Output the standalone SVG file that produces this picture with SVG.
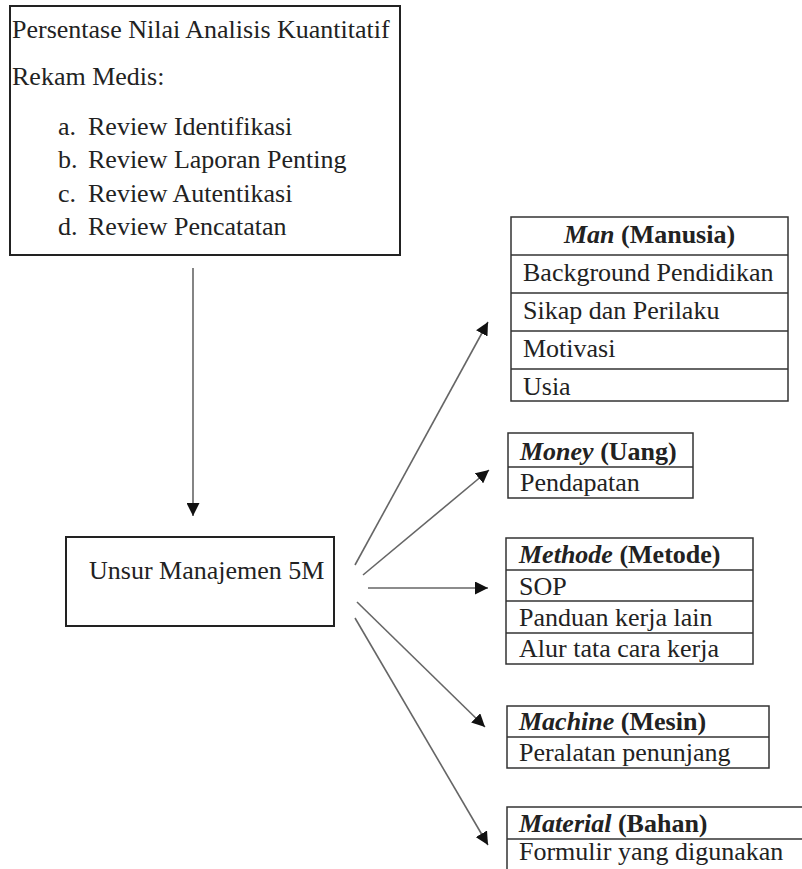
<svg xmlns="http://www.w3.org/2000/svg" width="802" height="869" viewBox="0 0 802 869">
<defs>
<style>
.t{font-family:"Liberation Serif","Times New Roman",serif;font-size:26px;fill:#222}
.b{font-weight:bold}
.i{font-style:italic}
.box{fill:#fff;stroke:#222;stroke-width:2}
.cell{fill:#fff;stroke:#333;stroke-width:1.5}
.sep{stroke:#333;stroke-width:1.5}
.conn{stroke:#666;stroke-width:1.6;fill:none;marker-end:url(#ah)}
</style>
<marker id="ah" markerUnits="userSpaceOnUse" markerWidth="13" markerHeight="13" refX="13" refY="6.5" orient="auto" viewBox="0 0 13 13">
<path d="M0,0 L13,6.5 L0,13 z" fill="#111"/>
</marker>
</defs>
<rect width="802" height="869" fill="#fff"/>

<g id="connectors">
<line class="conn" x1="193" y1="268" x2="193" y2="516"/>
<line class="conn" x1="355" y1="565" x2="488" y2="322"/>
<line class="conn" x1="363" y1="575" x2="489" y2="470"/>
<line class="conn" x1="368" y1="588" x2="488" y2="588"/>
<line class="conn" x1="357" y1="602" x2="485" y2="727"/>
<line class="conn" x1="355" y1="618" x2="488" y2="845"/>
</g>

<g id="persentase">
<rect class="box" x="10" y="6" width="390" height="249"/>
<text class="t" x="12" y="38">Persentase Nilai Analisis Kuantitatif</text>
<text class="t" x="12" y="85">Rekam Medis:</text>
<text class="t" x="58" y="135">a.</text><text class="t" x="88" y="135">Review Identifikasi</text>
<text class="t" x="58" y="168">b.</text><text class="t" x="88" y="168">Review Laporan Penting</text>
<text class="t" x="58" y="202">c.</text><text class="t" x="88" y="202">Review Autentikasi</text>
<text class="t" x="58" y="235">d.</text><text class="t" x="88" y="235">Review Pencatatan</text>
</g>

<g id="unsur">
<rect class="box" x="66" y="537" width="268" height="89"/>
<text class="t" x="89" y="579">Unsur Manajemen 5M</text>
</g>

<g id="man">
<rect class="cell" x="511" y="217" width="277" height="184"/>
<line class="sep" x1="511" y1="255" x2="788" y2="255"/>
<line class="sep" x1="511" y1="293" x2="788" y2="293"/>
<line class="sep" x1="511" y1="331" x2="788" y2="331"/>
<line class="sep" x1="511" y1="369" x2="788" y2="369"/>
<text class="t b" x="649.5" y="243" text-anchor="middle"><tspan class="i">Man</tspan> (Manusia)</text>
<text class="t" x="523" y="281">Background Pendidikan</text>
<text class="t" x="523" y="319">Sikap dan Perilaku</text>
<text class="t" x="523" y="357">Motivasi</text>
<text class="t" x="523" y="395">Usia</text>
</g>

<g id="money">
<rect class="cell" x="508" y="433" width="185" height="65"/>
<line class="sep" x1="508" y1="467" x2="693" y2="467"/>
<text class="t b" x="520" y="460"><tspan class="i">Money</tspan> (Uang)</text>
<text class="t" x="520" y="491">Pendapatan</text>
</g>

<g id="methode">
<rect class="cell" x="506" y="538" width="247" height="126"/>
<line class="sep" x1="506" y1="570" x2="753" y2="570"/>
<line class="sep" x1="506" y1="601" x2="753" y2="601"/>
<line class="sep" x1="506" y1="633" x2="753" y2="633"/>
<text class="t b" x="519" y="563"><tspan class="i">Methode</tspan> (Metode)</text>
<text class="t" x="519" y="595">SOP</text>
<text class="t" x="519" y="626">Panduan kerja lain</text>
<text class="t" x="519" y="657">Alur tata cara kerja</text>
</g>

<g id="machine">
<rect class="cell" x="507" y="706" width="262" height="62"/>
<line class="sep" x1="507" y1="737" x2="769" y2="737"/>
<text class="t b" x="519" y="730"><tspan class="i">Machine</tspan> (Mesin)</text>
<text class="t" x="519" y="761">Peralatan penunjang</text>
</g>

<g id="material">
<rect class="cell" x="507" y="807" width="310" height="80"/>
<line class="sep" x1="507" y1="839" x2="817" y2="839"/>
<text class="t b" x="519" y="832"><tspan class="i">Material</tspan> (Bahan)</text>
<text class="t" x="519" y="860">Formulir yang digunakan</text>
</g>
</svg>
